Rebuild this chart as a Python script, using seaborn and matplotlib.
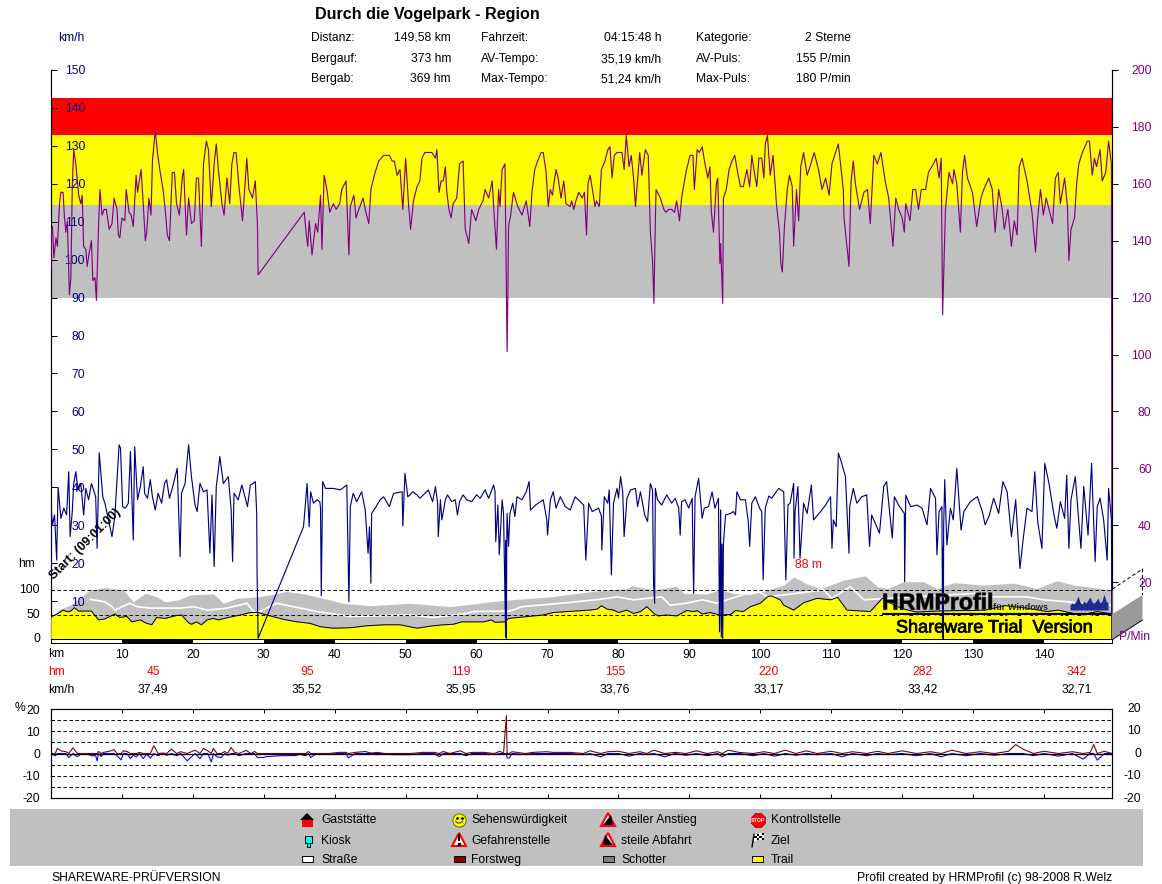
# plot.py
# Profil einer Radtour (HRMProfil): Puls, Tempo, Hoehe und Steigung ueber der Strecke

import numpy as np
import pandas as pd
import matplotlib
matplotlib.use("Agg")
import matplotlib.pyplot as plt
import matplotlib.patheffects as pe
import seaborn as sns

# --- Daten --- #
DISTANZ = 149.58

puls_km = [0.0,0.05,0.2,0.4,0.7,0.9,1.2,1.4,1.7,1.9,2.1,2.3,2.6,2.8,3.0,3.2,3.5,3.9,4.2,4.4,4.6,4.9,5.1,5.4,5.7,5.9,6.2,6.4,6.7,6.9,
    7.2,7.5,7.8,8.2,8.6,8.9,9.3,9.5,9.7,10.0,10.4,10.6,11.0,11.3,11.6,12.0,12.2,12.5,12.7,13.0,13.3,13.5,13.8,14.1,14.3,14.7,15.0,15.4,15.8,16.1,
    16.4,16.7,17.1,17.4,17.7,18.1,18.5,18.7,19.1,19.4,19.8,20.2,20.5,20.8,21.2,21.5,21.9,22.2,22.6,23.0,23.3,23.6,24.1,24.4,24.8,25.2,25.5,25.8,26.1,26.5,
    27.0,27.2,27.6,27.9,28.4,28.8,29.1,29.2,35.7,36.0,36.2,36.4,36.8,37.3,37.6,38.0,38.2,38.5,38.9,39.3,39.8,40.2,40.7,41.0,41.6,42.0,42.2,42.7,43.0,43.4,
    44.0,44.3,44.8,45.1,45.7,46.2,46.9,47.7,48.1,48.4,48.8,49.2,49.6,50.0,50.4,50.7,51.1,51.6,52.0,52.3,52.7,53.7,54.2,54.4,54.7,55.0,55.3,55.6,55.8,56.1,
    56.4,56.7,57.2,57.6,58.1,58.4,58.9,59.3,59.9,60.3,60.9,61.2,61.7,62.2,62.5,62.8,63.1,63.3,63.6,64.0,64.2,64.3,64.4,64.5,64.8,65.2,65.8,66.4,67.0,67.5,
    67.8,68.2,68.6,69.1,69.4,69.8,70.1,70.4,70.7,70.9,71.2,71.5,71.9,72.3,72.6,73.2,73.4,73.7,74.0,74.4,74.9,75.2,75.5,75.7,76.0,76.4,76.7,76.9,77.3,77.6,
    78.1,78.5,78.8,79.1,79.4,79.8,80.5,80.8,81.1,81.5,81.8,82.1,82.4,82.8,83.0,83.3,83.8,84.2,84.5,84.8,85.0,85.2,85.3,85.9,86.4,86.7,87.1,87.5,87.9,88.2,
    88.6,88.9,89.3,89.6,90.1,90.5,90.7,91.1,91.4,91.8,92.2,92.6,92.9,93.1,93.4,93.8,94.0,94.3,94.4,94.7,94.8,95.2,95.6,96.0,96.4,96.8,97.2,97.6,98.1,98.5,
    98.8,99.1,99.5,99.8,100.2,100.5,100.7,101.0,101.4,101.8,102.3,102.7,102.9,103.1,103.4,103.8,104.1,104.5,104.7,105.1,105.4,105.7,106.1,106.6,107.0,107.6,108.2,108.7,109.2,109.7,
    110.1,110.6,111.0,111.7,111.8,112.5,112.8,113.1,113.4,114.0,114.6,115.1,115.5,116.0,116.5,117.0,117.6,118.1,118.7,119.1,119.5,120.0,120.3,120.5,121.1,121.5,121.9,122.3,122.7,123.3,
    123.7,124.4,124.8,125.2,125.5,125.7,126.1,126.6,127.1,127.3,127.7,128.0,128.2,128.5,128.8,129.2,129.9,130.5,131.1,131.5,132.2,132.7,133.1,133.6,134.1,134.4,134.9,135.4,135.8,136.2,
    136.5,136.9,137.6,138.3,138.8,139.1,139.5,139.9,140.3,140.9,141.2,141.6,142.0,142.3,142.9,143.3,143.5,143.8,144.3,144.6,144.9,145.4,146.1,146.4,146.8,147.1,147.4,147.9,148.2,148.7,
    149.1,149.5,149.58]
puls_bpm = [130,143,145,134,141,138,153,157,157,148,143,147,121,127,159,172,167,156,153,156,138,137,131,136,140,126,127,119,145,158,
    149,151,151,144,146,155,151,142,141,148,147,158,150,149,145,163,157,162,165,153,140,143,155,149,168,179,171,164,158,151,
    142,140,164,164,153,149,162,165,142,155,146,147,162,162,138,167,175,172,152,167,174,165,153,149,162,153,167,171,171,159,
    147,154,169,158,155,161,146,128,150,142,138,147,135,146,143,156,137,163,158,150,153,151,153,158,161,135,152,156,148,151,
    155,151,146,158,164,168,170,170,168,168,163,165,151,169,153,144,154,159,161,169,171,171,169,172,157,161,161,166,157,151,
    148,153,155,167,168,144,139,151,147,151,154,158,155,161,148,137,158,152,165,167,125,101,119,145,149,157,152,149,154,145,
    157,165,168,171,171,164,152,158,156,160,165,162,155,161,153,152,154,151,154,157,155,157,142,160,163,157,152,154,152,165,
    168,172,173,162,170,171,171,165,177,166,170,163,152,165,171,163,172,170,143,133,118,147,158,155,151,150,151,151,150,154,
    147,155,161,165,170,170,158,172,171,173,167,162,166,150,143,160,162,132,139,118,155,158,165,168,170,164,159,159,165,159,
    170,165,159,169,169,162,174,177,163,170,152,143,132,129,145,158,163,159,138,158,147,166,171,163,166,171,165,158,162,156,
    167,171,174,158,148,131,161,168,160,151,157,158,146,170,167,171,161,155,138,155,151,148,143,153,147,158,158,151,158,158,
    164,167,169,162,169,114,151,164,160,165,160,150,143,164,170,162,157,145,155,158,162,158,143,158,151,144,151,138,147,142,
    166,169,161,150,136,148,158,149,155,149,146,162,164,153,162,152,133,144,148,160,167,171,175,175,163,169,166,172,161,164,
    175,167,0]

tempo_km = [0.0,0.05,0.2,0.5,0.8,1.0,1.4,1.8,2.2,2.5,2.7,3.0,3.2,3.5,3.8,4.2,4.6,4.9,5.3,5.7,6.0,6.3,6.5,6.8,7.0,7.3,7.6,8.6,9.0,9.3,
    9.6,9.8,10.1,10.5,10.9,11.2,11.6,11.8,12.2,12.6,13.0,13.2,13.6,14.0,14.3,14.7,15.1,15.6,16.0,16.3,16.7,17.1,17.5,17.8,18.2,18.4,18.9,19.4,19.8,20.3,
    20.6,21.0,21.5,22.0,22.4,22.7,23.0,23.3,23.6,23.8,24.3,25.0,25.4,25.6,25.8,26.4,26.9,27.4,27.7,28.1,28.5,28.8,29.0,29.05,29.2,35.6,36.1,36.4,36.6,37.0,
    37.5,37.9,38.0,38.1,38.3,38.7,39.8,40.8,41.7,42.0,42.2,42.6,43.1,43.8,44.3,44.7,44.9,45.1,45.2,45.7,46.4,46.9,47.7,48.3,49.5,49.6,49.9,50.3,50.6,51.0,
    51.6,52.0,52.5,53.2,53.8,54.2,54.5,54.6,54.9,55.1,55.6,55.9,56.5,57.0,57.3,57.6,58.1,58.6,59.3,60.0,60.5,61.2,61.7,62.4,62.6,62.7,63.0,63.2,63.6,63.8,
    64.1,64.15,64.2,64.25,64.3,64.5,64.7,65.1,65.4,65.7,66.4,67.0,67.4,67.6,68.3,69.0,69.4,69.9,70.0,70.4,70.8,71.2,71.8,72.5,73.2,73.9,74.6,75.1,75.4,75.8,
    76.3,77.2,77.6,77.65,78.0,78.5,78.7,79.0,79.3,79.8,80.0,80.3,80.6,80.8,81.2,81.7,82.4,82.7,83.1,83.7,84.1,84.5,84.8,84.95,85.1,85.2,85.5,86.1,86.8,87.5,
    88.0,88.5,88.7,88.9,89.4,89.9,90.4,90.5,90.6,90.8,91.3,91.8,92.1,92.7,93.2,93.6,94.1,94.25,94.35,94.4,94.5,94.6,94.7,94.8,95.1,95.8,96.2,96.5,96.7,97.2,
    97.9,98.3,98.5,98.8,99.3,99.9,100.2,100.4,100.7,101.2,101.6,102.6,103.3,103.6,103.9,104.2,104.7,104.75,104.9,105.3,105.6,106.1,106.6,107.2,107.5,108.5,109.2,109.9,110.1,110.3,
    110.7,111.0,111.4,112.0,112.5,112.6,113.1,113.6,114.3,115.0,115.4,115.7,116.5,116.8,117.4,117.8,118.6,118.9,119.5,120.3,120.35,120.5,121.2,122.1,122.8,123.5,124.0,124.7,124.9,125.2,
    125.6,125.7,125.75,125.8,125.85,126.0,126.3,126.8,127.2,127.7,128.3,128.7,129.6,130.6,131.3,131.7,132.3,132.9,133.6,134.2,134.8,135.4,136.0,136.6,137.1,137.6,138.3,138.7,139.1,139.7,
    140.1,140.7,141.4,141.8,142.3,142.9,143.2,143.5,143.8,144.4,145.2,145.6,146.2,146.7,147.2,147.5,147.9,148.4,148.9,149.1,149.5,149.58]
tempo_kmh = [15.6,34,30,32.7,20.8,40,31.8,34.5,32.7,44.1,27,33.6,41,44.1,39.3,41,32.7,39.7,36.7,41,39.3,37.5,23.9,49.1,44.6,37.5,35.8,27,32.3,42,
    51.2,50.3,34.9,34.5,35.8,49.4,26.1,50.7,36.7,40.2,45.4,38.4,37.1,42,37.5,34,38.4,35.8,41,42,37.1,39.7,42.8,45,21.7,38.4,41,51.2,42.8,35.3,
    33.6,41,38.8,39.3,22.6,38,19.1,40.2,44.6,48.1,41,42.8,34,20.4,38.4,36.7,40.6,37.1,34.9,40.6,41,41.5,33.1,17.8,0.2,29.6,41,29.6,38.8,35.8,
    36.7,36.2,34.5,11.4,41.5,39.7,39.7,39.3,40.6,9.8,34.9,38.4,36.2,38.8,34,22.6,29.6,14.7,33.1,34.5,36.7,37.5,34.9,38.4,38.8,29.8,43.7,37.5,38,38.8,
    38,37.1,38,39.3,36.2,40.2,35.8,27,36.7,31.4,36.7,38,36.2,36.7,32.7,36.2,38,36.7,36.2,38,37.1,39.3,37.1,40.6,38.8,25.7,35.3,22.2,36.7,33.1,
    0.6,26,0.2,25,33.1,24.4,33.1,35.8,32.3,37.5,36.7,38.8,41.5,34,35.3,36.2,36.7,31.4,27.4,36.7,38.8,34.5,37.5,34.9,34,37.5,36.2,35.3,20.8,35.8,
    33.6,34.5,32.3,23.5,37.5,35.8,39.3,16.9,35.8,39.7,37.1,42.8,38.8,27,37.1,39.3,39.7,34.9,38.8,32.7,31,41,39.3,14.7,9.4,39.7,36.7,35.3,38,35.8,
    37.1,34.5,27.4,36.2,36.7,34.5,37.1,22.2,12,37.5,42.4,31.8,34.5,34.9,38.8,34.5,37.1,1.9,20,34,0.5,25,0,25.2,32.7,33.1,33.6,32.7,38.8,36.7,
    36.7,31,24.4,35.8,37.5,34.5,33.6,15.6,34.5,37.7,37.1,39.7,38.8,15.6,35.3,35.8,41,21.3,33.6,40.2,21.3,35.8,33.1,40.6,31.4,33.6,35.3,37.5,23.9,31.4,
    29.6,49,46.8,42.8,22.6,34.9,39.7,35.8,37.5,38,24.4,32.7,29.2,27.9,40.2,41.5,26.6,37.5,35.3,33.1,15.1,37.9,34.9,35.3,34.5,30.1,39.7,37.1,22.2,33.6,
    34.9,0.5,24,0,30,42,24.8,34.5,31.4,45,28.7,33.6,36.2,37.5,33.6,30.1,32.7,37.1,33.1,41.5,38.8,27,36.7,18.6,27,34.5,33.6,44.1,31,23.9,
    46.3,41,32.7,29.2,36.2,31.8,43.2,23.9,36.7,42.8,23.9,40.2,27.4,46.3,20.4,34.9,37.1,31.4,20.8,39.7,31.4,0]

hoehe_km = [0.0,1.0,1.7,2.2,2.7,3.3,3.9,5.7,6.7,7.6,9.0,9.7,10.7,11.4,12.6,13.3,14.2,14.9,16.1,17.7,18.4,19.4,19.8,20.5,21.2,22.0,22.9,23.6,25.0,26.7,
    28.1,29.2,30.4,32.8,34.7,36.5,38.0,39.8,42.2,44.5,46.9,49.2,51.6,53.9,55.3,56.7,57.9,61.0,62.1,62.6,64.0,64.5,67.3,69.4,70.8,72.7,76.0,77.0,77.6,78.4,
    79.3,80.0,81.2,82.1,83.1,84.0,85.0,85.6,86.8,88.2,89.6,90.6,91.1,91.8,92.9,94.3,95.8,96.5,97.6,98.6,100.0,101.0,101.6,102.8,103.3,104.7,106.1,108.0,109.9,110.9,
    112.2,115.5,117.2,118.5,120.0,122.0,125.0,128.0,130.0,131.7,134.5,137.6,140.4,142.0,145.1,147.5,149.58]
hoehe_hm = [45,52,59,56,56,64,57,57,39,41,51,44,46,35,39,33,29,44,42,48,49,33,30,35,29,39,42,39,44,49,
    54,54,49,40,35,32,25,22,23,27,29,29,22,27,29,30,35,35,39,34,35,42,46,49,54,56,59,61,68,61,
    59,54,59,52,56,66,52,47,49,47,58,56,58,51,54,49,50,58,56,66,73,86,88,80,69,59,74,83,80,85,
    59,56,83,72,62,55,57,58,58,59,68,63,56,59,49,56,51]

panorama_km = [0.0,1.0,2.7,4.6,5.5,7.6,10.2,11.6,13.3,14.9,16.1,18.0,19.6,22.9,24.3,26.2,29.0,30.9,33.2,35.6,38.4,41.2,45.0,50.6,56.3,59.3,61.9,65.7,70.4,74.1,
    77.4,81.2,81.9,85.0,88.2,89.2,92.5,94.3,96.2,98.6,101.0,103.3,104.7,106.6,108.5,111.7,114.8,116.5,117.9,120.2,123.0,124.9,127.3,131.5,135.7,139.0,141.8,144.2,149.58]
panorama_hm = [42,59,69,90,100,105,100,76,93,86,76,80,90,92,73,83,86,90,97,92,83,73,68,73,66,71,76,81,86,93,
    99,103,109,100,108,93,92,101,93,91,100,110,127,112,103,120,129,107,103,117,117,103,115,110,114,103,119,110,100]

weg_km = [5.5,7.6,8.6,9.0,np.nan,11.1,12.1,14.0,np.nan,18.2,20.1,22.0,np.nan,24.8,27.6,28.8,np.nan,31.8,37.5,42.2,50.6,53.9,58.1,59.6,64.7,np.nan,
    66.4,72.7,77.4,79.8,82.1,np.nan,86.1,87.3,89.6,np.nan,91.8,93.9,np.nan,99.5,101.0,np.nan,108.9,110.1,np.nan,112.7,114.6,np.nan,130.1,132.4,np.nan,137.6,140.0,np.nan,145.6,149.4]
weg_hm = [81,76,66,59,np.nan,73,66,63,np.nan,63,66,59,np.nan,63,73,52,np.nan,73,56,46,49,44,51,56,57,np.nan,
    66,74,81,86,80,np.nan,86,69,73,np.nan,80,73,np.nan,100,86,np.nan,100,83,np.nan,107,80,np.nan,93,86,np.nan,86,80,np.nan,73,69]

steigung_km = [0.0,0.6,0.9,1.4,2.1,2.5,3.1,3.7,4.2,5.2,5.7,6.3,6.5,6.7,7.1,7.4,8.2,8.9,9.3,9.9,10.2,10.7,11.2,11.6,12.0,12.5,13.0,13.5,14.0,14.5,
    15.1,15.7,16.3,17.0,17.7,18.3,19.2,20.3,21.0,21.5,22.1,22.6,22.9,23.4,24.0,24.5,24.9,25.4,25.9,26.5,27.5,28.2,28.7,29.1,30.0,30.3,32.4,34.6,34.9,35.9,
    36.3,36.6,37.3,39.2,40.6,41.6,41.9,42.9,44.3,45.1,46.0,47.0,48.0,49.4,50.7,52.4,54.1,54.7,55.3,56.2,57.7,58.5,59.4,61.1,62.5,63.3,63.8,64.0,64.2,64.3,
    64.6,65.0,66.9,67.9,69.8,70.8,71.8,73.2,75.0,76.0,77.5,78.5,80.0,81.5,83.0,84.0,85.0,86.5,88.0,89.5,91.0,92.5,94.0,94.6,95.5,97.0,99.0,100.5,102.0,103.5,
    105.0,106.5,108.0,110.0,111.5,113.0,115.0,116.5,118.0,120.0,122.0,124.0,125.5,127.0,129.0,131.0,133.0,135.0,136.0,137.0,138.5,140.0,142.0,144.0,145.5,146.5,147.0,147.5,148.5,149.58]
steigung_pct = [0,-1,2.3,1.2,0.8,-1.8,2.6,-1.4,-0.3,-0.3,-1,-1,-3.3,0.9,-1.4,0.5,1,1.7,-1,-2.9,1.2,0.9,-2.3,-0.8,-1.5,0.5,-2.3,-0.3,-2.1,3.5,
    -1,0.2,-0.8,2,-1,0.8,-3.3,1.5,-2.3,2.3,1.2,-3.8,2.3,-1.5,-1.8,0.9,-0.8,2.7,0.5,-1,1.4,0,0.9,-1.8,-1.8,-1.4,-1,-0.9,-0.3,-1,
    0.9,-1.8,-0.3,-0.3,0.5,0.5,-2,0.5,0.9,0.2,0.5,0,-0.5,-0.5,-0.5,0.5,0.5,-1.5,0.9,0,1.2,-1,0.5,0.5,-0.5,1,0,8.3,17,-2,
    -2,0.8,-0.5,0.5,0.8,0.5,0.5,0.5,-0.5,1.2,-1.5,0.8,1,-1.2,0.8,-0.5,1.5,-1.5,0.5,-0.8,1.2,-1,0.8,-1.5,1.5,0.5,-1,0.8,-1.2,1.5,
    -0.8,1.2,-0.5,1,-1.5,0.8,-1,1,-0.5,1.2,-1,0.8,-1.5,1.5,-1,0.8,-0.8,1,4,2,-1,1,-1.2,0.8,-2.5,0.5,4,-3,1,0]

km_ticks = list(range(10, 150, 10))
kmh_ticks = list(range(10, 160, 10))
puls_ticks = list(range(20, 220, 20))
steigung_ticks = [-20, -10, 0, 10, 20]
zonen_grenzen = [120, 152.5, 177, 190]
zonen_farben = ["#C0C0C0", "#FFFF00", "#FF0000"]

abschnitt_x = [153, 307, 461, 615, 769, 923, 1077]
abschnitt_hm = ["45", "95", "119", "155", "220", "282", "342"]
abschnitt_kmh = ["37,49", "35,52", "35,95", "33,76", "33,17", "33,42", "32,71"]

kopf_spalten = [
    (311, 451, ["Distanz:", "Bergauf:", "Bergab:"], ["149,58 km", "373 hm", "369 hm"]),
    (481, 661, ["Fahrzeit:", "AV-Tempo:", "Max-Tempo:"], ["04:15:48 h", "35,19 km/h", "51,24 km/h"]),
    (696, 851, ["Kategorie:", "AV-Puls:", "Max-Puls:"], ["2 Sterne", "155 P/min", "180 P/min"]),
]

logo_hoehen = [5, 7, 6, 9, 14, 8, 6, 9, 7, 10, 13, 8, 7, 9, 12, 7, 9, 16, 9, 7]

# --- Konfiguration --- #
BREITE, HOEHE = 1162, 884
NAVY = "#000080"
LILA = "#800080"
DUNKELROT = "#800000"
PX = 0.72  # ein Pixel in Punkt

sns.set_theme(style="white")
plt.rcParams["font.family"] = ["Liberation Sans", "DejaVu Sans"]
plt.rcParams["font.size"] = 8.7
plt.rcParams["axes.unicode_minus"] = False


def achse_px(links, oben, rechts, unten):
    """Legt eine Achse ueber Pixelkoordinaten des Bildes an."""
    return fig.add_axes([links / BREITE, 1 - unten / HOEHE, (rechts - links) / BREITE, (unten - oben) / HOEHE])


def overlay(basis, ymax):
    """Durchsichtige Zwillingsachse ohne Beschriftung."""
    a = basis.twinx()
    a.set_ylim(0, ymax)
    a.set_xlim(0, DISTANZ)
    a.set_yticks([])
    a.patch.set_visible(False)
    for s in a.spines.values():
        s.set_visible(False)
    return a


def linie(a, x, y, farbe, lw=1.0):
    sns.lineplot(x=x, y=y, ax=a, color=farbe, lw=lw * PX, estimator=None, sort=False, errorbar=None, legend=False)
    a.set_xlabel("")
    a.set_ylabel("")


fig = plt.figure(figsize=(BREITE / 100, HOEHE / 100), dpi=100, facecolor="white")

# --- Hauptdiagramm --- #
ax_puls = achse_px(51, 70, 1112, 639)
ax_puls.set_xlim(0, DISTANZ)
ax_puls.set_ylim(0, 200)
ax_puls.set_xticks([])
for i, farbe in enumerate(zonen_farben):
    ax_puls.axhspan(zonen_grenzen[i], zonen_grenzen[i + 1], color=farbe, lw=0, zorder=0)
for s in ax_puls.spines.values():
    s.set_linewidth(1.2 * PX)
    s.set_color("black")
ax_puls.spines["top"].set_visible(False)

# Hoehenprofil mit Panorama
ax_hm = overlay(ax_puls, 569 / 0.49)
ax_hm.fill_between(panorama_km, 0, panorama_hm, color="#C0C0C0", lw=0)
linie(ax_hm, weg_km, weg_hm, "white", lw=1.7)
ax_hm.fill_between(hoehe_km, 0, hoehe_hm, color="#FFFF00", lw=0)
linie(ax_hm, hoehe_km, hoehe_hm, "black", lw=1.0)
for wert in [50, 100]:
    ax_hm.axhline(wert, color="black", lw=PX, ls=(0, (3.5, 2.5)))

# Linke Skala km/h liegt innerhalb der Zeichenflaeche
ax_kmh = overlay(ax_hm, 150)
ax_kmh.yaxis.tick_left()
ax_kmh.set_yticks(kmh_ticks)
ax_kmh.tick_params(axis="y", direction="in", length=4, width=PX, color="black", pad=-24.5, labelcolor=NAVY, labelsize=8.7)

ax_hr = overlay(ax_kmh, 200)
linie(ax_hr, puls_km, puls_bpm, LILA, lw=1.15)
ax_v = overlay(ax_hr, 150)
linie(ax_v, tempo_km, tempo_kmh, NAVY, lw=1.15)

# twinx setzt die Ticks der Basis nach links, die Pulsskala kommt deshalb erst hier
ax_kmh.yaxis.tick_left()
ax_puls.yaxis.tick_right()
ax_puls.set_yticks(puls_ticks)
ax_puls.tick_params(axis="y", direction="out", length=4, width=PX, color="black", pad=24.5, labelcolor=LILA, labelsize=8.7)
for lab in ax_puls.get_yticklabels():
    lab.set_ha("right")

# Kilometerleiste
ax_bar = achse_px(51, 639, 1112, 643)
ax_bar.set_xlim(0, DISTANZ)
ax_bar.set_yticks([])
for start in range(10, 150, 20):
    ax_bar.axvspan(start, start + 10, color="black", lw=0)
ax_bar.set_xticks(km_ticks)
ax_bar.tick_params(axis="x", length=0, pad=4, labelsize=8.7, labelcolor="black")
for s in ax_bar.spines.values():
    s.set_linewidth(PX)
    s.set_color("black")

# --- Steigung --- #
ax_st = achse_px(51, 709, 1112, 798)
ax_st.set_xlim(0, DISTANZ)
ax_st.set_ylim(-20, 20)
st = np.array(steigung_pct, dtype=float)
linie(ax_st, steigung_km, np.clip(st, None, 0), "#0000FF", lw=1.1)
linie(ax_st, steigung_km, np.clip(st, 0, None), DUNKELROT, lw=1.1)
for wert in [-15, -10, -5, 5, 10, 15]:
    ax_st.axhline(wert, color="black", lw=PX, ls=(0, (3.5, 2.5)))
ax_st.axhline(0, color="black", lw=1.3 * PX)
ax_st.set_xticks(km_ticks)
ax_st.tick_params(axis="x", direction="in", top=True, bottom=True, length=3, width=PX, color="black", labelbottom=False)
ax_st.set_yticks(steigung_ticks)
ax_st.tick_params(axis="y", left=False, length=0, pad=8, labelsize=8.7, labelcolor="black")
for s in ax_st.spines.values():
    s.set_linewidth(1.2 * PX)
    s.set_color("black")

# --- Texte und Beiwerk in Pixelkoordinaten --- #
ov = fig.add_axes([0, 0, 1, 1], zorder=10)
ov.set_xlim(0, BREITE)
ov.set_ylim(HOEHE, 0)
ov.axis("off")


def txt(x, y, s, ha="left", farbe="black", groesse=8.7, **kw):
    return ov.text(x, y + 1, s, ha=ha, va="center", color=farbe, fontsize=groesse, **kw)


txt(315, 14, "Durch die Vogelpark - Region", groesse=11.6, fontweight="bold")
txt(58, 37, "km/h", farbe=NAVY)
for x_l, x_r, namen, werte in kopf_spalten:
    for y, name, wert in zip([37, 58, 78], namen, werte):
        txt(x_l, y, name)
        txt(x_r, y, wert, ha="right")

txt(18, 563, "hm")
for y, s in zip([589, 614, 638], ["100", "50", "0"]):
    txt(40, y, s, ha="right")
txt(48, 653, "km")
txt(48, 671, "hm", farbe="#FF0000")
txt(48, 689, "km/h")
for x, hm, kmh in zip(abschnitt_x, abschnitt_hm, abschnitt_kmh):
    txt(x, 671, hm, ha="center", farbe="#FF0000")
    txt(x, 689, kmh, ha="center")
txt(795, 564, "88 m", farbe="#FF0000")
txt(15, 707, "%")
for y, s in zip([708, 730, 753, 775, 798], ["20", "10", "0", "-10", "-20"]):
    txt(1141, y, s, ha="right")

# Start-Marke
ov.text(52, 578, "Start: (09:01:00)", rotation=45, rotation_mode="anchor", ha="left", va="center",
        fontsize=9.0, color="black", fontweight="bold")

# 3D-Wand rechts
ov.add_patch(plt.Polygon([(1112.5, 639), (1142.5, 620), (1142.5, 595), (1112.5, 614)], fc="#9A9A9A", ec="none"))
ov.plot([1112.5, 1142.5], [639.5, 620], color="black", lw=PX)
ov.plot([1112.5, 1142.5, 1142.5], [589, 569, 595], color="black", lw=PX, ls=(0, (3.5, 2.5)))
txt(1119, 636, "P/Min", farbe=LILA)

# Logo
txt(882, 602, "HRMProfil", groesse=16.6, fontweight="bold", farbe="black",
    path_effects=[pe.withStroke(linewidth=0.8, foreground="#555555")])
txt(993, 606, "für Windows", groesse=6.6, fontweight="bold", farbe="#222222")
ov.plot([883, 1110], [614, 614], color="black", lw=2.2 * PX)
ov.plot([883, 1110], [615, 615], color="white", lw=0.7 * PX, ls=(0, (12, 10)))
txt(896, 627, "Shareware Trial  Version", groesse=13.0, farbe="black",
    path_effects=[pe.withStroke(linewidth=0.5, foreground="black")])
logo_x = np.linspace(1070, 1108, len(logo_hoehen))
ov.fill_between(logo_x, 610, 610 - np.array(logo_hoehen), color="#1F2A8C", lw=0)

# --- Legende --- #
ov.add_patch(plt.Rectangle((10, 809), 1133, 57, fc="#C0C0C0", ec="none"))


def dreieck(x, y, innen):
    ov.add_patch(plt.Polygon([(x - 7, y + 6), (x, y - 7), (x + 7, y + 6)], fc="white", ec="#FF0000", lw=1.5))
    ov.add_patch(plt.Polygon(innen, fc="black", ec="none"))


# Gaststaette
ov.add_patch(plt.Rectangle((302, 820), 11, 7, fc="#FF0000", ec="none"))
ov.add_patch(plt.Polygon([(300, 820), (307, 813), (314, 820)], fc="black", ec="none"))
# Sehenswuerdigkeit
ov.plot([459], [820], "o", ms=9.5, mfc="#FFFF00", mec="#555500", mew=0.6)
ov.plot([456.5, 461.5], [818, 818], ".", ms=2, color="black")
ov.plot([455.5, 457.5, 460.5, 462.5], [821, 823, 823, 821], color="black", lw=0.6)
# Steigungen und Gefahr
dreieck(608, 820, [(603, 825), (611, 815), (613, 825)])
dreieck(608, 840, [(603, 845), (605, 835), (613, 845)])
dreieck(459, 840, [(458, 834), (460, 834), (460, 841), (458, 841)])
ov.plot([459], [844], "s", ms=1.8, color="black")
# Stopp
ov.plot([758], [820], "8", ms=11, mfc="#FF0000", mec="#A00000", mew=0.5)
ov.text(758, 820, "STOP", ha="center", va="center", fontsize=3.8, color="white", fontweight="bold")
# Kiosk
ov.add_patch(plt.Rectangle((305, 836), 7, 7, fc="#00FFFF", ec="black", lw=0.7))
ov.add_patch(plt.Rectangle((307, 843), 3, 4, fc="#00FFFF", ec="black", lw=0.7))
# Ziel
ov.plot([752, 754], [847, 834], color="black", lw=1.0)
for r in range(3):
    for c in range(4):
        f = "black" if (r + c) % 2 else "white"
        ov.add_patch(plt.Rectangle((754 + c * 2.5, 834 + r * 2.2 - c * 0.3), 2.5, 2.2, fc=f, ec="none"))
# Wegarten
for x, f in zip([302, 454, 603, 752], ["#FFFFFF", DUNKELROT, "#808080", "#FFFF00"]):
    ov.add_patch(plt.Rectangle((x, 856), 11, 6, fc=f, ec="black", lw=0.7))

legende = [(321, ["Gaststätte", "Kiosk", "Straße"]), (471, ["Sehenswürdigkeit", "Gefahrenstelle", "Forstweg"]),
           (621, ["steiler Anstieg", "steile Abfahrt", "Schotter"]), (771, ["Kontrollstelle", "Ziel", "Trail"])]
for x, namen in legende:
    for y, name in zip([819, 840, 859], namen):
        txt(x, y, name)

txt(51, 877, "SHAREWARE-PRÜFVERSION")
txt(1112, 877, "Profil created by HRMProfil (c) 98-2008 R.Welz", ha="right")

fig.savefig("out.png", dpi=100)
plt.close(fig)
